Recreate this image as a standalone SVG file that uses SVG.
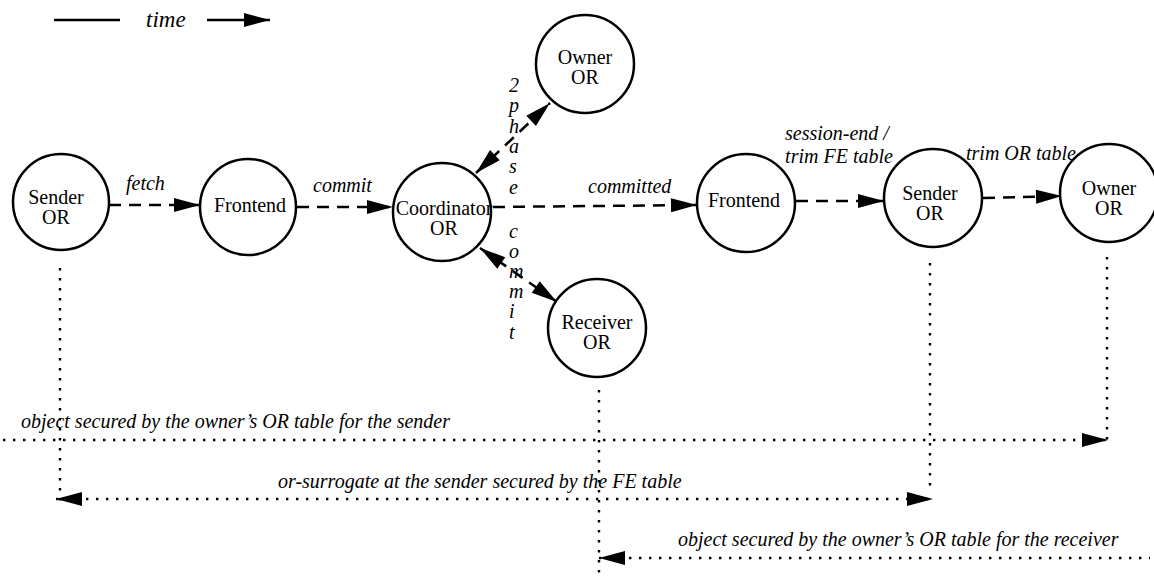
<svg xmlns="http://www.w3.org/2000/svg" width="1154" height="580" viewBox="0 0 1154 580" font-family="Liberation Serif, Times New Roman, serif" font-size="20">
<defs>
<style>
.node{fill:#fff;stroke:#000;stroke-width:2.5}
.nt{font-family:'Liberation Serif',serif;font-size:20px;fill:#000;text-anchor:middle}
.lb{font-family:'Liberation Serif',serif;font-size:20px;font-style:italic;fill:#000}
.dash{fill:none;stroke:#000;stroke-width:2.5;stroke-dasharray:12 8}
.dot{fill:none;stroke:#000;stroke-width:2.4;stroke-dasharray:2.4 7.6}
.solid{fill:none;stroke:#000;stroke-width:2.5}
</style>
<marker id="ah" markerUnits="userSpaceOnUse" markerWidth="28" markerHeight="16" refX="26" refY="7" orient="auto-start-reverse" overflow="visible">
<path d="M0,0 L26,7 L0,14 z" fill="#000"/>
</marker>
</defs>
<rect width="1154" height="580" fill="#fff"/>
<g id="legend">
<line class="solid" x1="54" y1="20" x2="120" y2="20"/>
<text class="lb" font-family="Liberation Serif, serif" font-style="italic" x="146" y="27" style="font-size:23px">time</text>
<line class="solid" x1="207" y1="20" x2="270" y2="20" marker-end="url(#ah)"/>
</g>
<g id="connectors">
<line class="dash" x1="109" y1="205" x2="200" y2="205" marker-end="url(#ah)"/>
<line class="dash" x1="297" y1="207" x2="393" y2="207" marker-end="url(#ah)"/>
<line class="dash" x1="493" y1="207" x2="697" y2="205" marker-end="url(#ah)"/>
<line class="dash" x1="796" y1="201" x2="884" y2="201" marker-end="url(#ah)"/>
<line class="dash" x1="983" y1="198" x2="1062" y2="196" marker-end="url(#ah)"/>
<line class="dash" x1="476" y1="173" x2="550" y2="103" marker-start="url(#ah)" marker-end="url(#ah)"/>
<line class="dash" x1="480" y1="248" x2="557" y2="302" marker-start="url(#ah)" marker-end="url(#ah)"/>
<line class="dot" x1="60" y1="268" x2="60" y2="508"/>
<line class="dot" x1="599" y1="390" x2="599" y2="580"/>
<line class="dot" x1="930" y1="263" x2="930" y2="492"/>
<line class="dot" x1="1107" y1="257" x2="1107" y2="446"/>
<line class="dot" x1="3" y1="440" x2="1108" y2="440" marker-end="url(#ah)"/>
<line class="dot" x1="56" y1="499" x2="933" y2="499" marker-start="url(#ah)" marker-end="url(#ah)"/>
<line class="dot" x1="599" y1="558" x2="1150" y2="558" marker-start="url(#ah)"/>
</g>
<g id="labels" font-family="Liberation Serif, serif" font-style="italic" font-size="20">
<text class="lb" x="126" y="190">fetch</text>
<text class="lb" x="313" y="192">commit</text>
<text class="lb" x="588" y="193">committed</text>
<text class="lb" x="837" y="140" text-anchor="middle">session-end /</text>
<text class="lb" x="839" y="163" text-anchor="middle">trim FE table</text>
<text class="lb" x="966" y="160">trim OR table</text>
<text class="lb" x="509"><tspan x="509" y="92">2</tspan><tspan x="509" y="112">p</tspan><tspan x="509" y="133">h</tspan><tspan x="509" y="153">a</tspan><tspan x="509" y="173">s</tspan><tspan x="509" y="194">e</tspan></text>
<text class="lb" x="509"><tspan x="509" y="238">c</tspan><tspan x="509" y="258">o</tspan><tspan x="509" y="278">m</tspan><tspan x="509" y="298">m</tspan><tspan x="509" y="318">i</tspan><tspan x="509" y="339">t</tspan></text>
<text class="lb" x="21" y="428">object secured by the owner’s OR table for the sender</text>
<text class="lb" x="278" y="488">or-surrogate at the sender secured by the FE table</text>
<text class="lb" x="678" y="546">object secured by the owner’s OR table for the receiver</text>
</g>
<g id="nodes" font-family="Liberation Serif, serif" font-size="20">
<g id="sender-or-1">
<circle class="node" cx="61" cy="202" r="48"/>
<text class="nt" x="56" y="204">Sender</text>
<text class="nt" x="56" y="224">OR</text>
</g>
<g id="frontend-1">
<circle class="node" cx="248" cy="207" r="48"/>
<text class="nt" x="250" y="212">Frontend</text>
</g>
<g id="coordinator-or">
<circle class="node" cx="442" cy="212" r="49"/>
<text class="nt" x="444" y="215">Coordinator</text>
<text class="nt" x="444" y="235">OR</text>
</g>
<g id="owner-or-1">
<circle class="node" cx="585" cy="64" r="49"/>
<text class="nt" x="585" y="64">Owner</text>
<text class="nt" x="585" y="84">OR</text>
</g>
<g id="receiver-or">
<circle class="node" cx="597" cy="328" r="49"/>
<text class="nt" x="597" y="329">Receiver</text>
<text class="nt" x="597" y="349">OR</text>
</g>
<g id="frontend-2">
<circle class="node" cx="746" cy="203" r="49"/>
<text class="nt" x="744" y="207">Frontend</text>
</g>
<g id="sender-or-2">
<circle class="node" cx="933" cy="198" r="49"/>
<text class="nt" x="930" y="200">Sender</text>
<text class="nt" x="930" y="220">OR</text>
</g>
<g id="owner-or-2">
<circle class="node" cx="1109" cy="193" r="49"/>
<text class="nt" x="1109" y="195">Owner</text>
<text class="nt" x="1109" y="215">OR</text>
</g>
</g>
</svg>
